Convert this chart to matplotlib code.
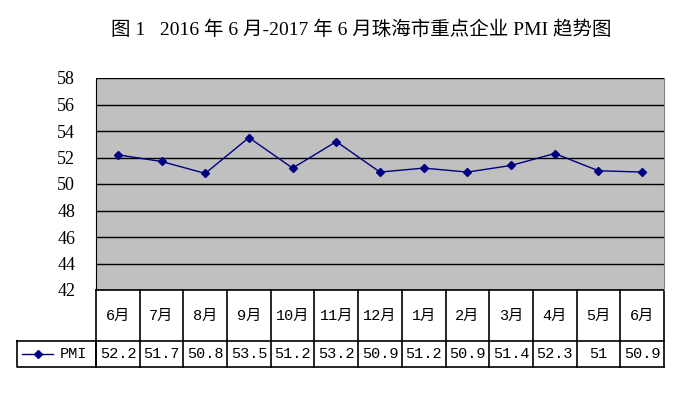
import matplotlib
matplotlib.use("Agg")
from matplotlib import pyplot as plt
import matplotlib.transforms as mtransforms
from matplotlib.lines import Line2D

months = ["6月", "7月", "8月", "9月", "10月", "11月", "12月", "1月", "2月", "3月", "4月", "5月", "6月"]
pmi = [52.2, 51.7, 50.8, 53.5, 51.2, 53.2, 50.9, 51.2, 50.9, 51.4, 52.3, 51, 50.9]
pmi_text = ["52.2", "51.7", "50.8", "53.5", "51.2", "53.2", "50.9", "51.2", "50.9", "51.4", "52.3", "51", "50.9"]
yticks = [42, 44, 46, 48, 50, 52, 54, 56, 58]

MONO_CJK = ["Liberation Mono", "Noto Sans CJK SC"]
SERIF_CJK = ["Liberation Serif", "Noto Sans CJK SC"]
W, H = 700, 393
LINE = "#000080"

fig = plt.figure(figsize=(W / 100, H / 100), dpi=100)
fig.patch.set_facecolor("white")

# plot area in pixels: left 96, right 664, top 78, bottom 290
L, R, T, B = 96, 664, 78, 290
ax = fig.add_axes([L / W, 1 - B / H, (R - L) / W, (B - T) / H])
ax.set_facecolor("#c0c0c0")
x = list(range(len(months)))
ax.set_xlim(-0.5, len(months) - 0.5)
ax.set_ylim(42, 58)
ax.set_yticks(yticks)
for v in yticks:
    ax.axhline(v, color="black", lw=1.0, zorder=1)
ax.plot(x, pmi, color=LINE, lw=1.0, marker="D", ms=4.5, mfc=LINE, mec=LINE, zorder=3)
ax.set_xticks([])
ax.tick_params(axis="y", length=0, pad=15, labelsize=13)
for t in ax.get_yticklabels():
    t.set_fontfamily("Liberation Serif")
for s in ["top", "bottom"]:
    ax.spines[s].set_visible(False)
ax.spines["left"].set_color("black")
ax.spines["right"].set_color("#808080")

# table below the plot, x in data units, y in figure pixels
pix = mtransforms.Affine2D().scale(1 / W, -1 / H).translate(0, 1) + fig.transFigure
tr = mtransforms.blended_transform_factory(ax.transData, pix)
row1, row2, row3 = 290, 341, 367
kw = dict(color="black", lw=1.2, clip_on=False)
x0, x1 = -0.5, len(months) - 0.5
ax.add_line(Line2D([x0, x1], [row1, row1], transform=tr, **kw))
ax.add_line(Line2D([x0, x1], [row2, row2], transform=tr, **kw))
ax.add_line(Line2D([x0, x1], [row3, row3], transform=tr, **kw))
for i in range(len(months) + 1):
    ax.add_line(Line2D([i - 0.5, i - 0.5], [row1, row3], transform=tr, **kw))
for i, (m, v) in enumerate(zip(months, pmi_text)):
    ax.text(i, (row1 + row2) / 2, m, transform=tr, ha="center", va="center",
            fontsize=11, family=MONO_CJK)
    ax.text(i, (row2 + row3) / 2, v, transform=tr, ha="center", va="center",
            fontsize=11, family=MONO_CJK)

# legend cell
ov = fig.add_axes([0, 0, 1, 1])
ov.set_xlim(0, W)
ov.set_ylim(H, 0)
ov.axis("off")
ov.plot([17, 96, 96, 17, 17], [row2, row2, row3, row3, row2], color="black", lw=1.2)
ov.plot([22, 53], [354, 354], color=LINE, lw=1.0)
ov.plot([38], [354], marker="D", ms=4.5, color=LINE)
ov.text(60, 354, "PMI", ha="left", va="center", fontsize=11, family=MONO_CJK)

fig.text(361 / W, 1 - 30 / H, "图 1   2016 年 6 月-2017 年 6 月珠海市重点企业 PMI 趋势图",
         ha="center", va="center", fontsize=14, family=SERIF_CJK)

fig.savefig("out.png", dpi=100, facecolor="white")
